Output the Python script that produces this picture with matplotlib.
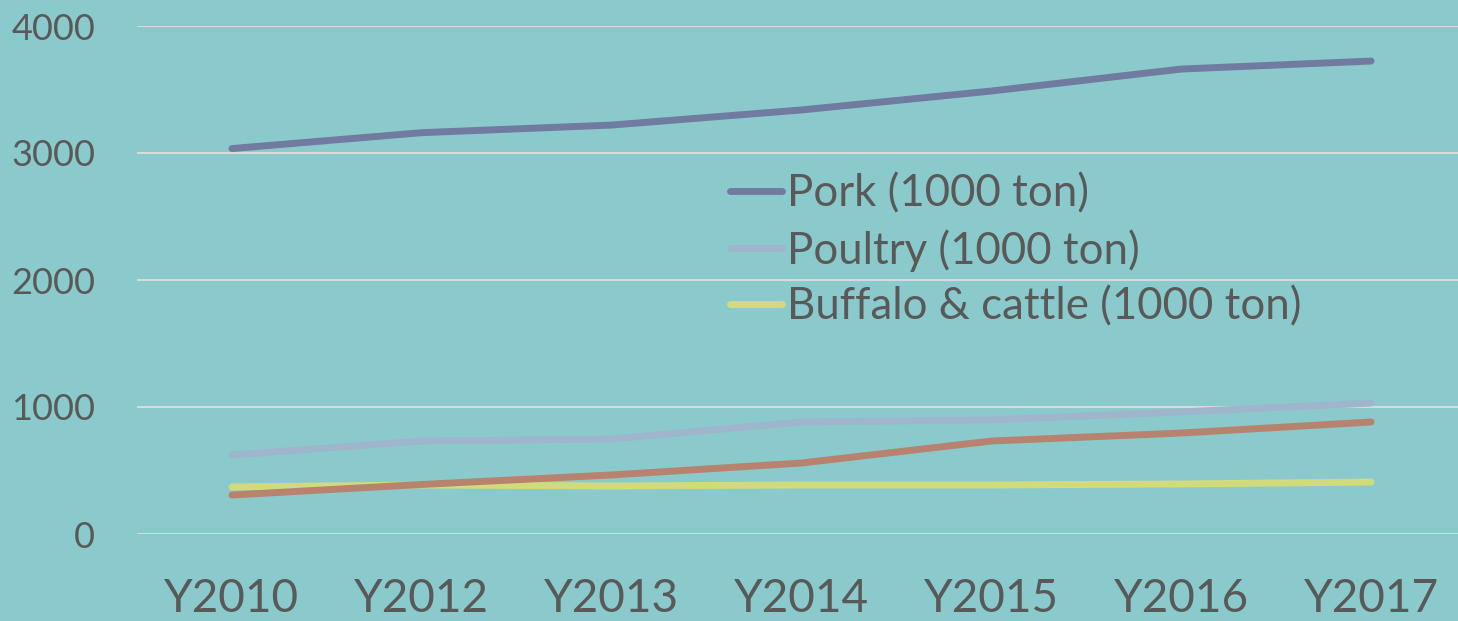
"""
Meat production line chart
"""

import matplotlib
matplotlib.use("Agg")
import matplotlib.pyplot as plt
import numpy as np

years = ["Y2010", "Y2012", "Y2013", "Y2014", "Y2015", "Y2016", "Y2017"]
pork = [3035, 3160, 3220, 3339, 3488, 3661, 3724]
poultry = [622, 732, 748, 882, 898, 961, 1031]
other_meat = [307, 390, 465, 559, 732, 795, 882]
buffalo_cattle = [370, 386, 378, 386, 386, 394, 409]

plt.rcParams["font.family"] = ["Lato", "DejaVu Sans"]
bg = "#8BCACC"
text_color = "#595959"

fig = plt.figure(figsize=(14.58, 6.21), dpi=100, facecolor=bg)
ax = fig.add_axes([137 / 1458, (621 - 534) / 621, (1466 - 137) / 1458, (534 - 26) / 621])
ax.set_facecolor(bg)

x = np.arange(len(years))
lw = 5
ax.plot(x, pork, color="#717BA0", lw=lw, solid_capstyle="round", label="Pork (1000 ton)")
ax.plot(x, poultry, color="#9EB5CC", lw=lw, solid_capstyle="round", label="Poultry (1000 ton)")
ax.plot(x, buffalo_cattle, color="#D2DB7C", lw=lw, solid_capstyle="round",
        label="Buffalo & cattle (1000 ton)")
ax.plot(x, other_meat, color="#B7836F", lw=lw, solid_capstyle="round", label="_nolegend_")

ax.set_xlim(-0.5, len(years) - 0.5)
ax.set_ylim(0, 4000)
ax.set_yticks([0, 1000, 2000, 3000, 4000])
ax.set_xticks(x)
ax.set_xticklabels(years)
ax.grid(axis="y", color="#D9D9D9", lw=1.5)
ax.set_axisbelow(True)
for s in ax.spines.values():
    s.set_visible(False)
ax.tick_params(axis="y", length=0, pad=30, labelsize=26, labelcolor=text_color)
ax.tick_params(axis="x", length=0, pad=32, labelsize=33, labelcolor=text_color)

leg = ax.legend(loc="upper left", bbox_to_anchor=(0.446, 0.71), frameon=False,
                fontsize=31.5, labelcolor=text_color, handlelength=1.2,
                handletextpad=0.1, labelspacing=0.33, borderaxespad=0,
                borderpad=0)

fig.savefig("out.png", dpi=100, facecolor=bg)
